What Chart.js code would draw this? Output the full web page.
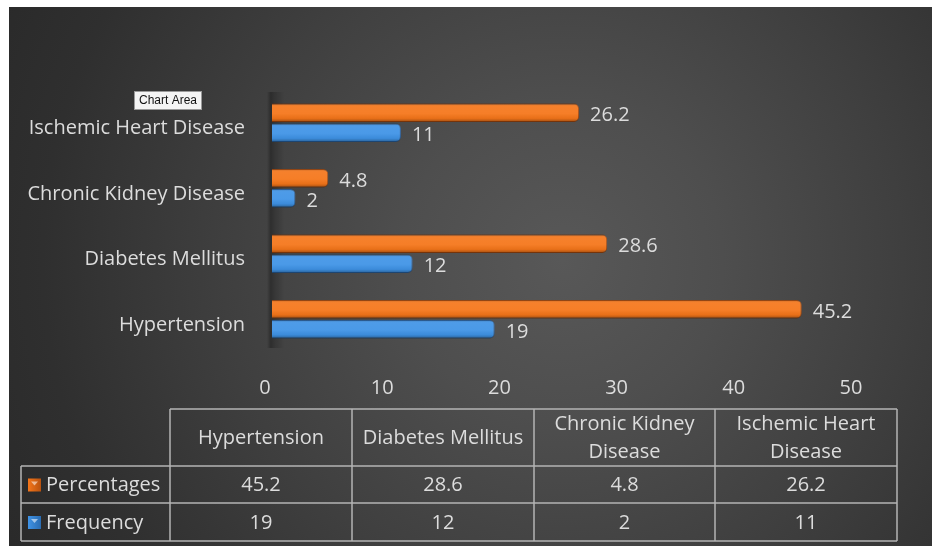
<!DOCTYPE html>
<html>
<head>
<meta charset="utf-8">
<script src="https://cdn.jsdelivr.net/npm/chart.js@4"></script>
<style>
  html, body { margin: 0; padding: 0; background: #fff; }
  #bg {
    position: absolute; left: 9px; top: 7px; width: 923px; height: 539px;
    background: radial-gradient(circle at 60% 47%, #585858 0px, #4e4e4e 160px, #3f3f3f 340px, #2f2f2f 520px, #262626 700px);
  }
  #wrap { position: absolute; left: 0; top: 0; width: 932px; height: 546px; }
</style>
</head>
<body>
<div id="bg"></div>
<div id="wrap"><canvas id="chart" width="932" height="546"></canvas></div>
<script>
// chart data
const categories = ['Hypertension', 'Diabetes Mellitus', 'Chronic Kidney Disease', 'Ischemic Heart Disease'];
const percentages = [45.2, 28.6, 4.8, 26.2];
const frequency = [19, 12, 2, 11];
const seriesNames = ['Percentages', 'Frequency'];
const xTicks = [0, 10, 20, 30, 40, 50];

const FONT = "'Open Sans', 'Noto Sans', sans-serif";
const FSIZE = 20;
const TEXT = '#dcdcdc';
const ORANGE = '#f5761a';
const BLUE = '#3f93e6';

/**
 * Soft dark strip along the value axis, like the wall of the 3D chart.
 */
const wallShadow = {
  id: 'wallShadow',
  beforeDatasetsDraw(chart) {
    const { ctx, chartArea } = chart;
    const x = chartArea.left;
    const g = ctx.createLinearGradient(x - 5, 0, x + 12, 0);
    g.addColorStop(0, 'rgba(0,0,0,0)');
    g.addColorStop(0.22, 'rgba(0,0,0,0.3)');
    g.addColorStop(0.45, 'rgba(0,0,0,0.18)');
    g.addColorStop(1, 'rgba(0,0,0,0)');
    ctx.save();
    ctx.fillStyle = g;
    ctx.fillRect(x - 5, chartArea.top + 2, 17, chartArea.bottom - chartArea.top - 6);
    ctx.restore();
  }
};

/**
 * Shading on top of each bar so it looks rounded, plus the value labels.
 */
const barFinish = {
  id: 'barFinish',
  afterDatasetsDraw(chart) {
    const { ctx } = chart;
    ctx.save();
    chart.data.datasets.forEach((ds, di) => {
      const meta = chart.getDatasetMeta(di);
      meta.data.forEach((bar, i) => {
        const top = bar.y - bar.height / 2;
        const left = bar.base;
        const w = bar.x - bar.base;
        const g = ctx.createLinearGradient(0, top, 0, top + bar.height);
        g.addColorStop(0, 'rgba(0,0,0,0.22)');
        g.addColorStop(0.15, 'rgba(255,255,255,0.08)');
        g.addColorStop(0.55, 'rgba(255,255,255,0.06)');
        g.addColorStop(0.8, 'rgba(0,0,0,0.05)');
        g.addColorStop(1, 'rgba(0,0,0,0.35)');
        ctx.fillStyle = g;
        ctx.beginPath();
        ctx.roundRect(left, top, w, bar.height, [0, 5, 5, 0]);
        ctx.fill();

        ctx.fillStyle = TEXT;
        ctx.font = `${FSIZE}px ${FONT}`;
        ctx.textAlign = 'left';
        ctx.textBaseline = 'middle';
        ctx.fillText(String(ds.data[i]), bar.x + 11, bar.y + 3);
      });
    });
    ctx.restore();
  }
};

function wrapText(ctx, text, maxWidth) {
  const words = text.split(' ');
  const lines = [];
  let line = '';
  words.forEach(word => {
    const test = line ? line + ' ' + word : word;
    if (ctx.measureText(test).width > maxWidth && line) {
      lines.push(line);
      line = word;
    } else {
      line = test;
    }
  });
  lines.push(line);
  return lines;
}

/**
 * Data table under the chart, with legend keys.
 */
const dataTable = {
  id: 'dataTable',
  afterDraw(chart) {
    const { ctx } = chart;
    const cols = [21, 170, 352, 534, 715, 897];
    const rows = [409, 466, 503, 541];
    ctx.save();
    ctx.strokeStyle = '#b4b4b4';
    ctx.lineWidth = 1.5;

    ctx.beginPath();
    ctx.moveTo(cols[1], rows[0]);
    ctx.lineTo(cols[5], rows[0]);
    for (let c = 1; c < cols.length; c++) {
      ctx.moveTo(cols[c], rows[0]);
      ctx.lineTo(cols[c], rows[3]);
    }
    for (let r = 1; r < rows.length; r++) {
      ctx.moveTo(cols[0], rows[r]);
      ctx.lineTo(cols[5], rows[r]);
    }
    ctx.moveTo(cols[0], rows[1]);
    ctx.lineTo(cols[0], rows[3]);
    ctx.stroke();

    ctx.font = `${FSIZE}px ${FONT}`;
    ctx.fillStyle = TEXT;
    ctx.textAlign = 'center';
    ctx.textBaseline = 'middle';

    categories.forEach((cat, i) => {
      const cx = (cols[i + 1] + cols[i + 2]) / 2;
      const lines = wrapText(ctx, cat, cols[i + 2] - cols[i + 1] - 10);
      const mid = (rows[0] + rows[1]) / 2 + 1;
      lines.forEach((ln, k) => {
        ctx.fillText(ln, cx, mid + (k - (lines.length - 1) / 2) * 28);
      });
    });

    const series = [percentages, frequency];
    const colors = [ORANGE, BLUE];
    series.forEach((vals, r) => {
      const cy = (rows[r + 1] + rows[r + 2]) / 2 + 1;
      vals.forEach((v, i) => {
        ctx.textAlign = 'center';
        ctx.fillText(String(v), (cols[i + 1] + cols[i + 2]) / 2, cy);
      });
      // legend key
      const kx = 28, ky = cy - 7, ks = 13;
      const g = ctx.createLinearGradient(kx, 0, kx + ks, 0);
      g.addColorStop(0, colors[r]);
      g.addColorStop(1, r === 0 ? '#b9520f' : '#2a6cb2');
      ctx.fillStyle = g;
      ctx.fillRect(kx, ky, ks, ks);
      ctx.fillStyle = 'rgba(255,255,255,0.55)';
      ctx.beginPath();
      ctx.moveTo(kx + 3, ky + 3);
      ctx.lineTo(kx + ks - 3, ky + 3);
      ctx.lineTo(kx + ks / 2, ky + 7);
      ctx.closePath();
      ctx.fill();
      ctx.fillStyle = TEXT;
      ctx.textAlign = 'left';
      ctx.fillText(seriesNames[r], 46, cy);
    });

    // the "Chart Area" hover hint seen in the source image
    ctx.fillStyle = '#f4f4f4';
    ctx.fillRect(134, 91, 68, 19);
    ctx.strokeStyle = '#9a9a9a';
    ctx.lineWidth = 1;
    ctx.strokeRect(134.5, 91.5, 67, 18);
    ctx.fillStyle = '#111';
    ctx.font = "12px 'Liberation Sans', Arial, sans-serif";
    ctx.textAlign = 'center';
    ctx.fillText('Chart Area', 168, 101);
    ctx.restore();
  }
};

function init() {
  const ctx = document.getElementById('chart').getContext('2d');
  new Chart(ctx, {
    type: 'bar',
    data: {
      labels: categories,
      datasets: [
        {
          label: seriesNames[0],
          data: percentages,
          backgroundColor: ORANGE,
          borderColor: '#a84a0e',
          borderWidth: 1,
          borderRadius: 5,
          borderSkipped: 'start'
        },
        {
          label: seriesNames[1],
          data: frequency,
          backgroundColor: BLUE,
          borderColor: '#2a63a3',
          borderWidth: 1,
          borderRadius: 5,
          borderSkipped: 'start'
        }
      ]
    },
    options: {
      indexAxis: 'y',
      responsive: false,
      animation: false,
      categoryPercentage: 0.61,
      barPercentage: 0.93,
      layout: { padding: { left: 10, top: 90, right: 74, bottom: 144 } },
      plugins: {
        legend: { display: false },
        tooltip: { enabled: false }
      },
      scales: {
        x: {
          min: xTicks[0],
          max: xTicks[xTicks.length - 1],
          afterBuildTicks: scale => { scale.ticks = xTicks.map(v => ({ value: v })); },
          afterFit: scale => { scale.height = 50; },
          grid: { display: false, drawTicks: false },
          border: { display: false },
          ticks: { color: TEXT, font: { family: FONT, size: FSIZE }, padding: 24, labelOffset: -7 }
        },
        y: {
          reverse: true,
          afterFit: scale => { scale.width = 262; },
          grid: { display: false, drawTicks: false },
          border: { display: false },
          ticks: { color: TEXT, font: { family: FONT, size: FSIZE }, padding: 27, labelOffset: 6 }
        }
      }
    },
    plugins: [wallShadow, barFinish, dataTable]
  });
}

document.addEventListener('DOMContentLoaded', init);
</script>
</body>
</html>
